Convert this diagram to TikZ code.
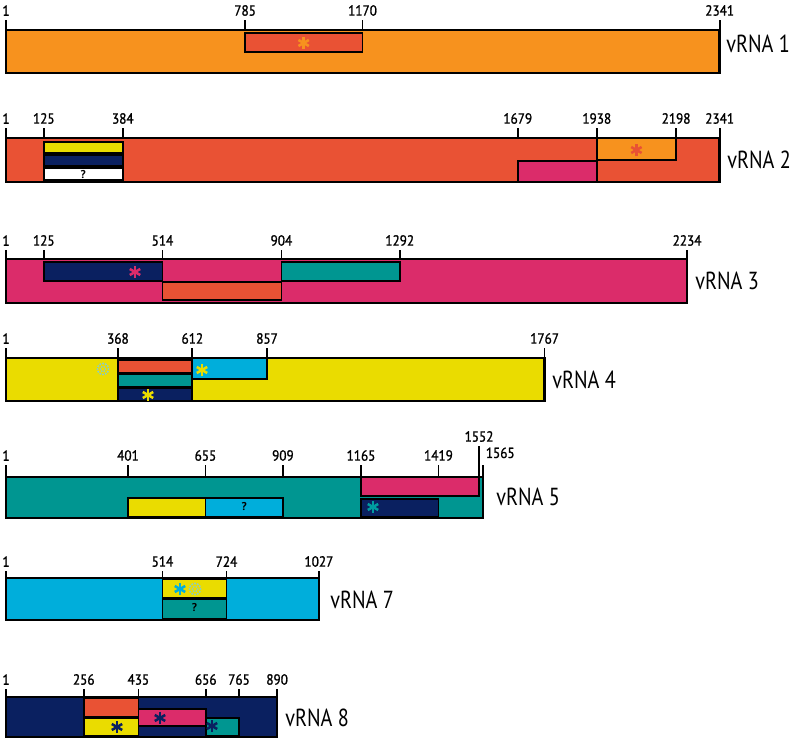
\documentclass[tikz,border=0pt]{standalone}
\usepackage{fontspec}
\setmainfont{PT Sans}
\newfontfamily\namefont[FakeStretch=0.82]{PT Sans}
\newfontfamily\numfont[FakeStretch=0.9,FakeBold=1.2]{PT Sans}
\definecolor{segorange}{RGB}{247,146,30}
\definecolor{segred}{RGB}{233,82,52}
\definecolor{segmagenta}{RGB}{219,44,106}
\definecolor{segyellow}{RGB}{234,220,0}
\definecolor{segteal}{RGB}{0,150,145}
\definecolor{segcyan}{RGB}{0,174,219}
\definecolor{segnavy}{RGB}{10,32,96}
\definecolor{ringteal}{RGB}{140,205,195}
\tikzset{
  bar/.style={draw=black,line width=1.8pt},
  box/.style={draw=black,line width=1.3pt},
  tick/.style={draw=black,line width=1.3pt},
  num/.style={above,inner sep=2.5pt,font=\numfont\fontsize{11}{13}\selectfont},
  rna/.style={right,inner sep=0pt,font=\namefont\fontsize{18.5}{22}\selectfont},
  qmark/.style={inner sep=0pt,font=\bfseries\fontsize{8.5}{9}\selectfont},
  asterisk/.pic={\foreach \a in {90,30,-30}\draw[line width=1.9pt] (\a:6)--(\a+180:6);},
  dotring/.pic={\foreach \a in {0,30,...,330}\fill (\a:5.5) circle (1.1);
    \foreach \a in {0,60,...,300}\fill (\a:2.5) circle (1);},
  declare function={bp(\p)=6+(\p-1)*0.305;}
}
\begin{document}
\begin{tikzpicture}[x=0.75pt,y=-0.75pt]
\useasboundingbox (0,0) rectangle (800,743);
% vRNA 1
\filldraw[bar,fill=segorange] ({bp(1)},30) rectangle ({bp(2341)},73);
\filldraw[box,fill=segred] ({bp(785)},33) rectangle ({bp(1170)},52);
\pic[segorange] at ({bp(977)},43) {asterisk};
\foreach \p in {1,785,1170,2341}
  \draw[tick] ({bp(\p)},30) -- ({bp(\p)},20) node[num] {\p};
\node[rna] at (726,44) {vRNA 1};
% vRNA 2
\filldraw[bar,fill=segred] ({bp(1)},138) rectangle ({bp(2341)},182);
\filldraw[box,fill=segyellow] ({bp(125)},142) rectangle ({bp(384)},153);
\filldraw[box,fill=segnavy] ({bp(125)},155) rectangle ({bp(384)},166);
\filldraw[box,fill=white] ({bp(125)},168) rectangle ({bp(384)},180);
\node[qmark] at ({bp(254)},175) {?};
\filldraw[box,fill=segorange] ({bp(1938)},138) rectangle ({bp(2198)},160);
\pic[segred] at ({bp(2068)},150) {asterisk};
\filldraw[box,fill=segmagenta] ({bp(1679)},161) rectangle ({bp(1938)},182);
\foreach \p in {1,125,384,1679,1938,2198,2341}
  \draw[tick] ({bp(\p)},138) -- ({bp(\p)},128) node[num] {\p};
\node[rna] at (727,160) {vRNA 2};
% vRNA 3
\filldraw[bar,fill=segmagenta] ({bp(1)},259) rectangle ({bp(2234)},303);
\filldraw[box,fill=segnavy] ({bp(125)},262) rectangle ({bp(514)},281);
\pic[segmagenta] at ({bp(424)},272) {asterisk};
\filldraw[box,fill=segteal] ({bp(904)},262) rectangle ({bp(1292)},281);
\filldraw[box,fill=segred] ({bp(514)},282) rectangle ({bp(904)},300);
\foreach \p in {1,125,514,904,1292,2234}
  \draw[tick] ({bp(\p)},259) -- ({bp(\p)},250) node[num] {\p};
\node[rna] at (695,281) {vRNA 3};
% vRNA 4
\filldraw[bar,fill=segyellow] ({bp(1)},358) rectangle ({bp(1767)},401);
\filldraw[box,fill=segred] ({bp(368)},360) rectangle ({bp(612)},373);
\filldraw[box,fill=segteal] ({bp(368)},374) rectangle ({bp(612)},387);
\filldraw[box,fill=segnavy] ({bp(368)},388) rectangle ({bp(612)},401);
\pic[segyellow] at (148,395) {asterisk};
\filldraw[box,fill=segcyan] ({bp(612)},358) rectangle ({bp(857)},379);
\pic[segyellow] at (202,370) {asterisk};
\pic[ringteal] at (103,369) {dotring};
\foreach \p in {1,368,612,857,1767}
  \draw[tick] ({bp(\p)},358) -- ({bp(\p)},348) node[num] {\p};
\node[rna] at (552,380) {vRNA 4};
% vRNA 5
\filldraw[bar,fill=segteal] ({bp(1)},477) rectangle ({bp(1565)},518);
\filldraw[box,fill=segmagenta] ({bp(1165)},477) rectangle ({bp(1552)},496);
\filldraw[box,fill=segnavy] ({bp(1165)},499) rectangle ({bp(1419)},517);
\pic[segteal!80!segcyan] at (373,507) {asterisk};
\filldraw[box,fill=segyellow] ({bp(401)},498) rectangle ({bp(655)},517);
\filldraw[box,fill=segcyan] ({bp(655)},498) rectangle ({bp(909)},517);
\node[qmark] at ({bp(782)},507) {?};
\foreach \p in {1,401,655,909,1165,1419}
  \draw[tick] ({bp(\p)},477) -- ({bp(\p)},465) node[num] {\p};
\draw[tick] ({bp(1552)},477) -- ({bp(1552)},446) node[num] {1552};
\draw[tick] ({bp(1565)},477) -- ({bp(1565)},465) node[num,anchor=south west,xshift=-1pt,yshift=2pt] {1565};
\node[rna] at (496,497) {vRNA 5};
% vRNA 7
\filldraw[bar,fill=segcyan] ({bp(1)},578) rectangle ({bp(1027)},620);
\filldraw[box,fill=segyellow] ({bp(514)},579) rectangle ({bp(724)},598);
\pic[segcyan] at (180,589) {asterisk};
\pic[ringteal] at (195,589) {dotring};
\filldraw[box,fill=segteal] ({bp(514)},599) rectangle ({bp(724)},619);
\node[qmark] at ({bp(619)},608) {?};
\foreach \p in {1,514,724,1027}
  \draw[tick] ({bp(\p)},578) -- ({bp(\p)},571) node[num] {\p};
\node[rna] at (330,600) {vRNA 7};
% vRNA 8
\filldraw[bar,fill=segnavy] ({bp(1)},697) rectangle ({bp(890)},737);
\filldraw[box,fill=segred] ({bp(256)},698) rectangle ({bp(435)},717);
\filldraw[box,fill=segyellow] ({bp(256)},718) rectangle ({bp(435)},736);
\pic[segnavy] at (117,727) {asterisk};
\filldraw[box,fill=segmagenta] ({bp(435)},709) rectangle ({bp(656)},726);
\pic[segnavy] at (160,718) {asterisk};
\filldraw[box,fill=segteal] ({bp(656)},718) rectangle ({bp(765)},736);
\pic[segnavy] at (212,726) {asterisk};
\foreach \p in {1,256,435,656,765,890}
  \draw[tick] ({bp(\p)},697) -- ({bp(\p)},689) node[num] {\p};
\node[rna] at (285,718) {vRNA 8};
\end{tikzpicture}
\end{document}
